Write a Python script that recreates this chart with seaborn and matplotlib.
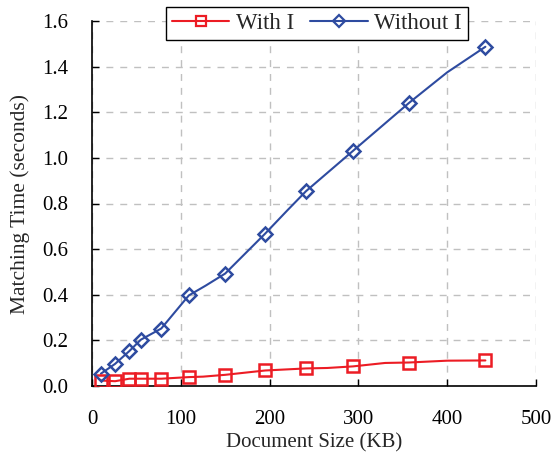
import matplotlib
matplotlib.use("Agg")
import matplotlib.pyplot as plt
import seaborn as sns
from matplotlib.lines import Line2D
from matplotlib.ticker import FormatStrFormatter

# Marked data points
size_kb = [10, 26, 42, 55, 78, 109, 150, 195, 241, 294, 357, 443]
with_i = [0.024, 0.021, 0.032, 0.032, 0.032, 0.039, 0.049, 0.068, 0.077, 0.086, 0.103, 0.112]
without_i = [0.054, 0.097, 0.153, 0.203, 0.252, 0.397, 0.493, 0.668, 0.854, 1.031, 1.241, 1.487]

# Line paths (include unmarked points)
line_x_with = [10, 26, 42, 55, 78, 109, 125, 150, 195, 241, 265, 294, 330, 357, 400, 443]
line_y_with = [0.024, 0.021, 0.032, 0.032, 0.032, 0.039, 0.041, 0.049, 0.068, 0.077, 0.079, 0.086, 0.101, 0.103, 0.111, 0.112]
line_x_without = [10, 26, 42, 55, 78, 109, 128, 150, 195, 220, 241, 294, 357, 400, 443]
line_y_without = [0.054, 0.097, 0.153, 0.203, 0.252, 0.397, 0.440, 0.493, 0.668, 0.770, 0.854, 1.031, 1.241, 1.375, 1.487]

x_ticks = [0, 100, 200, 300, 400, 500]
y_ticks = [0.0, 0.2, 0.4, 0.6, 0.8, 1.0, 1.2, 1.4, 1.6]

RED = "#EC1C24"
BLUE = "#2E4BA0"

sns.set_theme(style="white")
plt.rcParams["font.family"] = ["Liberation Serif", "DejaVu Serif"]

W, H = 555, 458
fig = plt.figure(figsize=(W / 100, H / 100), dpi=100)
ax = fig.add_axes([92 / W, (H - 386) / H, (536 - 92) / W, (386 - 21) / H])

sns.lineplot(x=line_x_with, y=line_y_with, ax=ax, color=RED, lw=1.5, sort=False)
sns.lineplot(x=line_x_without, y=line_y_without, ax=ax, color=BLUE, lw=1.5, sort=False)
ax.plot(size_kb, with_i, ls="none", marker="s", ms=8.5, mfc="none", mec=RED, mew=1.8, zorder=3)
ax.plot(size_kb, without_i, ls="none", marker="D", ms=7.5, mfc="none", mec=BLUE, mew=1.8, zorder=3)

ax.set_xlim(0, 500)
ax.set_ylim(0, 1.6)
ax.set_xticks(x_ticks)
ax.set_yticks(y_ticks)
ax.yaxis.set_major_formatter(FormatStrFormatter("%.1f"))
ax.grid(True, color="#C0C0C0", ls=(0, (5, 5)), lw=1)
ax.set_axisbelow(True)
for s in ["top", "right"]:
    ax.spines[s].set_visible(False)
for s in ["left", "bottom"]:
    ax.spines[s].set_color("black")
    ax.spines[s].set_linewidth(1.2)
ax.tick_params(direction="in", length=5, width=1, colors="black", labelsize=15,
               bottom=True, left=True, pad=17)
ax.set_xlabel("Document Size (KB)", fontsize=15, labelpad=3)
ax.set_ylabel("Matching Time (seconds)", fontsize=15.5, labelpad=9)

handles = [
    Line2D([], [], color=RED, lw=1.5, marker="s", ms=7, mfc="none", mec=RED, mew=1.6),
    Line2D([], [], color=BLUE, lw=1.5, marker="D", ms=6.5, mfc="none", mec=BLUE, mew=1.6),
]
leg = fig.legend(handles, ["With I", "Without I"], ncol=2, loc="upper center",
                 bbox_to_anchor=((166 + 468) / 2 / W, 1 - 7 / H), bbox_transform=fig.transFigure,
                 fontsize=16.5, frameon=True, fancybox=False,
                 edgecolor="black", framealpha=1, borderpad=0.25, handlelength=2.5,
                 columnspacing=0.7, handletextpad=0.3, borderaxespad=0)
leg.get_frame().set_linewidth(1.0)

fig.savefig("out.png", dpi=100)
